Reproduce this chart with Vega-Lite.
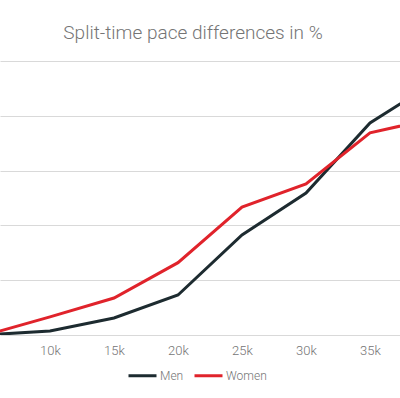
{
  "$schema": "https://vega.github.io/schema/vega-lite/v6.json",
  "width": 400,
  "height": 274,
  "autosize": {"type": "none"},
  "padding": {"top": 61, "left": 0, "right": 0, "bottom": 63},
  "background": "white",
  "title": {
    "text": "Split-time pace differences in %",
    "font": "Roboto",
    "fontWeight": 300,
    "fontSize": 19,
    "color": "#757575",
    "anchor": "middle",
    "dx": -7,
    "offset": 18
  },
  "config": {
    "view": {"stroke": null},
    "font": "Roboto"
  },
  "data": {
    "values": [
      {"split": 5, "series": "Men", "pace": 0},
      {"split": 10, "series": "Men", "pace": 0.15},
      {"split": 15, "series": "Men", "pace": 0.62},
      {"split": 20, "series": "Men", "pace": 1.46},
      {"split": 25, "series": "Men", "pace": 3.65},
      {"split": 30, "series": "Men", "pace": 5.18},
      {"split": 35, "series": "Men", "pace": 7.74},
      {"split": 40, "series": "Men", "pace": 9.22},
      {"split": 5, "series": "Women", "pace": 0},
      {"split": 10, "series": "Women", "pace": 0.66},
      {"split": 15, "series": "Women", "pace": 1.35},
      {"split": 20, "series": "Women", "pace": 2.64},
      {"split": 25, "series": "Women", "pace": 4.67},
      {"split": 30, "series": "Women", "pace": 5.51},
      {"split": 35, "series": "Women", "pace": 7.38},
      {"split": 40, "series": "Women", "pace": 7.9}
    ]
  },
  "mark": {"type": "line", "strokeWidth": 3, "clip": true},
  "encoding": {
    "x": {
      "field": "split",
      "type": "quantitative",
      "scale": {"domain": [6.094, 37.344], "nice": false, "zero": false},
      "axis": {
        "title": null,
        "values": [10, 15, 20, 25, 30, 35],
        "labelExpr": "datum.value + 'k'",
        "grid": false,
        "domain": false,
        "ticks": false,
        "labelPadding": 9,
        "labelFont": "Roboto",
        "labelFontWeight": 300,
        "labelFontSize": 13,
        "labelColor": "#757575",
        "labelFlush": false
      }
    },
    "y": {
      "field": "pace",
      "type": "quantitative",
      "scale": {"domain": [0, 10], "nice": false},
      "axis": {
        "title": null,
        "values": [0, 2, 4, 6, 8, 10],
        "labels": false,
        "ticks": false,
        "domain": false,
        "grid": true,
        "gridColor": "#d9d9d9",
        "gridWidth": 1
      }
    },
    "color": {
      "field": "series",
      "type": "nominal",
      "scale": {"domain": ["Men", "Women"], "range": ["#1d2b30", "#e0232b"]},
      "legend": {
        "title": null,
        "orient": "none",
        "legendX": 127,
        "legendY": 299,
        "direction": "horizontal",
        "symbolType": "stroke",
        "symbolStrokeWidth": 3,
        "symbolSize": 784,
        "labelFont": "Roboto",
        "labelFontWeight": 300,
        "labelFontSize": 12,
        "labelColor": "#757575",
        "labelOffset": 2,
        "columnPadding": 4
      }
    }
  }
}
